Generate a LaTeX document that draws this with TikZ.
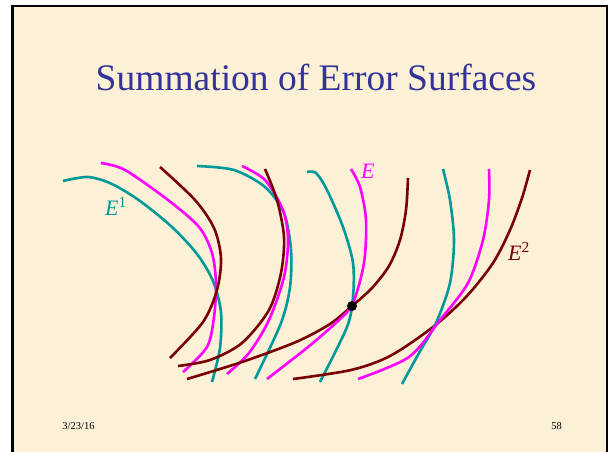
\documentclass[tikz,border=0pt]{standalone}
\usepackage{fontspec}
\setmainfont{Liberation Serif}
\definecolor{cream}{RGB}{252,241,215}
\definecolor{titleblue}{RGB}{51,51,153}
\definecolor{tealc}{RGB}{0,153,153}
\definecolor{magc}{RGB}{255,0,255}
\definecolor{maroonc}{RGB}{120,0,0}
\begin{document}
\begin{tikzpicture}[x=1pt,y=-1pt,
  curve/.style={line width=2.6pt,line cap=butt},
  tcurve/.style={curve,draw=tealc},
  mcurve/.style={curve,draw=magc},
  rcurve/.style={curve,draw=maroonc},
  lbl/.style={inner sep=0pt,anchor=base west,font=\fontsize{22}{24}\selectfont},
  foot/.style={inner sep=0pt,anchor=base,font=\fontsize{10.5}{12}\selectfont}]
\useasboundingbox (0,0) rectangle (611,451);
\fill[white] (0,0) rectangle (611,451);
\fill[cream] (12.5,5.5) rectangle (606.5,452);
\draw[line width=3pt] (12.5,4.5) -- (12.5,452);
\draw[line width=2pt] (11,5.5) -- (607.5,5.5);
\draw[line width=2pt] (606.5,4.5) -- (606.5,452);
\node[inner sep=0pt,anchor=base,text=titleblue,font=\fontsize{37.5}{40}\selectfont] (title) at (316,90) {Summation of Error Surfaces};
% curves
\draw[tcurve] plot[smooth] coordinates {(63,181) (88,177) (112,184) (140,201) (172,227) (197,254) (213,281) (221,312) (220,348) (212,382)};
\draw[mcurve] plot[smooth] coordinates {(101,163) (125,170) (168,200) (199,227) (212,253) (216,283) (214,317) (207,347) (183,372)};
\draw[rcurve] plot[smooth] coordinates {(160,167) (195,200) (214,228) (221,258) (217,290) (203,322) (170,358)};
\draw[tcurve] plot[smooth] coordinates {(197,166) (234,170) (265,187) (284,213) (291,250) (290,287) (281,323) (255,379)};
\draw[mcurve] plot[smooth] coordinates {(242,166) (265,180) (283,210) (288,240) (284,277) (269,320) (249,353) (227,374)};
\draw[rcurve] plot[smooth] coordinates {(265,169) (277,200) (284,237) (281,273) (269,310) (242,343) (210,360) (178,366)};
\draw[rcurve] plot[smooth] coordinates {(187,379) (242,362) (296,342) (330,324) (352,306) (372,288) (389,266) (400,240) (406,210) (408,178)};
\draw[tcurve] plot[smooth] coordinates {(307,172) (316,173) (327,190) (343,227) (353,263) (353,297) (347,327) (320,382)};
\draw[mcurve] plot[smooth] coordinates {(351,169) (360,187) (366,220) (364,263) (353,303) (339,320) (308,347) (267,379)};
\draw[rcurve] plot[smooth] coordinates {(293,379) (351,370) (390,356) (433,327) (466,297) (493,263) (510,230) (522,198) (530,170)};
\draw[tcurve] plot[smooth] coordinates {(443,169) (450,200) (454,240) (450,283) (436,323) (419,353) (402,384)};
\draw[mcurve] plot[smooth] coordinates {(489,169) (489,200) (483,240) (468,283) (440,320) (409,357) (358,379)};
\fill (352,306) circle (5);
% labels
\node[lbl,text=tealc] (e1) at (105,215) {\textit{E}\textsuperscript{1}};
\node[lbl,text=magc] (e) at (361,178) {\textit{E}};
\node[lbl,text=maroonc] (e2) at (508,260) {\textit{E}\textsuperscript{2}};
\node[foot] (date) at (78.5,429) {3/23/16};
\node[foot] (page) at (556.5,429) {58};
\end{tikzpicture}
\end{document}
